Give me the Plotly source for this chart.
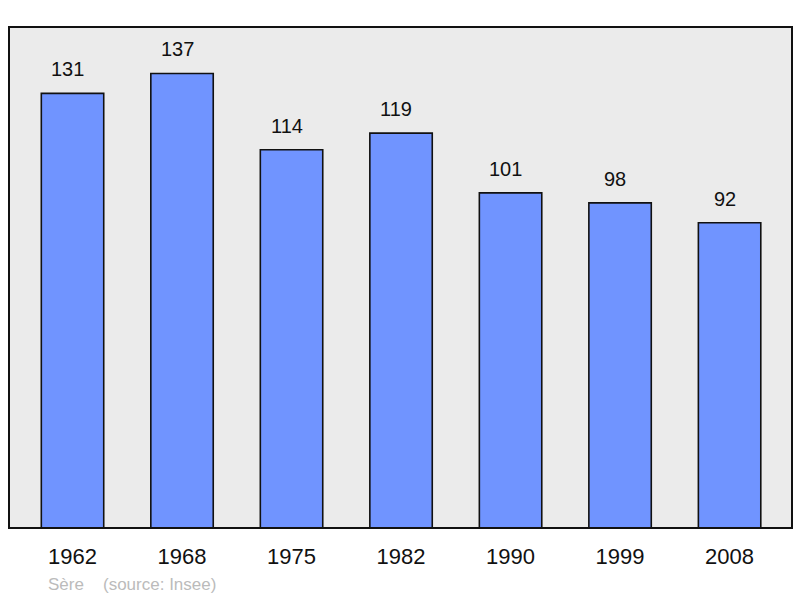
import plotly.graph_objects as go

years = ["1962", "1968", "1975", "1982", "1990", "1999", "2008"]
population = [131, 137, 114, 119, 101, 98, 92]

FONT = "Liberation Sans, Arial, sans-serif"
W, H = 800, 598
L, R, T, B = 9, 8, 27, 70
pw, ph = W - L - R, H - T - B

fig = go.Figure()

fig.add_trace(
    go.Bar(
        x=years,
        y=population,
        width=0.57,
        marker=dict(color="#7094ff", line=dict(color="#111111", width=1.6)),
        hoverinfo="x+y",
    )
)

# value above each bar (x given as category index), a bit left of centre like the original
for i, val in enumerate(population):
    fig.add_annotation(
        x=i, y=val, xref="x", yref="y", text=str(val), showarrow=False,
        yanchor="bottom", yshift=11, xshift=-5,
        font=dict(size=20, color="#111111", family=FONT),
    )

# commune name + source (pixel positions turned into paper coords)
for txt, px in [("Sère", 46), ("(source: Insee)", 101)]:
    fig.add_annotation(
        text=txt, x=(px - L) / pw, y=(H - B - 584) / ph, xref="paper", yref="paper",
        xanchor="left", yanchor="middle", showarrow=False,
        font=dict(size=17, color="#bbbbbb", family=FONT),
    )

fig.update_layout(
    width=W, height=H,
    margin=dict(l=L, r=R, t=T, b=B),
    plot_bgcolor="#ebebeb",
    paper_bgcolor="white",
    showlegend=False,
    font=dict(family=FONT, color="#111111"),
    shapes=[dict(type="rect", xref="paper", yref="paper", x0=0, x1=1, y0=0, y1=1,
                 line=dict(color="#111111", width=2))],
)
fig.update_xaxes(
    type="category", range=[-0.58, 6.57], showgrid=False, zeroline=False, showline=False,
    tickfont=dict(size=22), ticks="", ticklabelstandoff=13,
)
fig.update_yaxes(range=[0, 151], showgrid=False, zeroline=False, showticklabels=False, showline=False)

fig.write_html("out.html", config={"displayModeBar": False},
               post_script="document.body.style.margin='0';")
